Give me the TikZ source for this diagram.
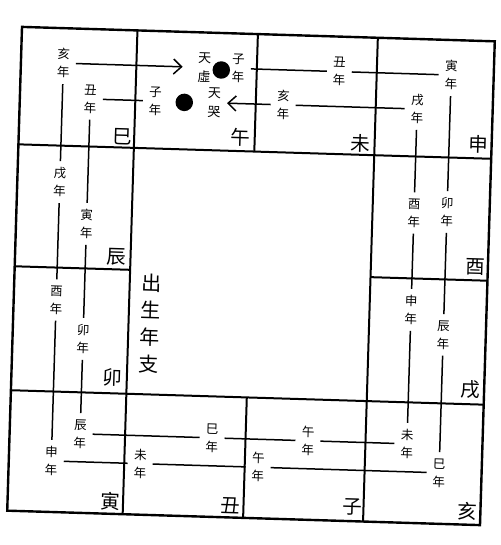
\documentclass[tikz,border=0pt]{standalone}
\usepackage{fontspec}
\newfontfamily\cjk{Noto Sans CJK TC}
\usetikzlibrary{arrows.meta}

\begin{document}
\begin{tikzpicture}[x=1pt, y=-1pt, line width=1.5pt]
    \tikzstyle{year}=[font=\cjk\fontsize{12.5}{18}\selectfont, align=center, inner sep=5.5pt]
    \tikzstyle{star}=[font=\cjk\fontsize{13}{19}\selectfont, align=center, inner sep=5.5pt]
    \tikzstyle{branch}=[font=\cjk\fontsize{19.5}{19.5}\selectfont, inner sep=0pt]
    \tikzstyle{spot}=[circle, fill=black, minimum size=17.5pt, inner sep=0pt]
    \tikzstyle{wall}=[line width=2pt]
    \tikzstyle{pointer}=[-{Straight Barb[length=8pt,width=15pt]}]

    \useasboundingbox (0,0) rectangle (500,545);

    \begin{scope}[rotate around={-1.75:(251,276)}, transform shape]

    % Palace grid
    \draw[wall, line width=2.4pt] (14.5,34) rectangle (487.5,518);
    \draw[wall] (130,34) -- (130,518);
    \draw[wall] (370.5,34) -- (370.5,518);
    \draw[wall] (14.5,151.5) -- (487.5,151.5);
    \draw[wall] (14.5,397.5) -- (487.5,397.5);
    \draw[wall] (250.5,34) -- (250.5,151.5);
    \draw[wall] (250.5,397.5) -- (250.5,518);
    \draw[wall] (14.5,273.5) -- (130,273.5);
    \draw[wall] (370.5,273.5) -- (487.5,273.5);

    % Branch names of the palaces
    \node[branch] (si) at (118,141) {巳};
    \node[branch] (wu) at (236,138) {午};
    \node[branch] (wei) at (356,140) {未};
    \node[branch] (shen) at (474,138) {申};
    \node[branch] (chen) at (116,261) {辰};
    \node[branch] (you) at (475,260) {酉};
    \node[branch] (mao) at (116,382) {卯};
    \node[branch] (xu) at (474,383) {戌};
    \node[branch] (yin) at (117,506) {寅};
    \node[branch] (chou) at (237,506) {丑};
    \node[branch] (zi) at (359,504) {子};
    \node[branch] (hai) at (475,505) {亥};

    \node[font=\cjk\fontsize{20}{27}\selectfont, align=center] (title) at (151.5,327) {出\\生\\年\\支};

    % Stars
    \node[star] (tianxu) at (198,69) {天\\虛};
    \node[spot] (tianxu-dot) at (215,71) {};
    \node[star] (tianku) at (209,104) {天\\哭};
    \node[spot] (tianku-dot) at (179,104.5) {};

    % Outer ring of years
    \node[year] (A-1) at (232,69) {子\\年};
    \node[year] (A-2) at (333,69) {丑\\年};
    \node[year] (A-3) at (445,69) {寅\\年};
    \node[year] (A-4) at (445,206) {卯\\年};
    \node[year] (A-5) at (445,329) {辰\\年};
    \node[year] (A-6) at (445,467) {巳\\年};
    \node[year] (A-7) at (264,467) {午\\年};
    \node[year] (A-8) at (146,467) {未\\年};
    \node[year] (A-9) at (57,467) {申\\年};
    \node[year] (A-10) at (57,306) {酉\\年};
    \node[year] (A-11) at (57,188) {戌\\年};
    \node[year] (A-12) at (57,69) {亥\\年};

    % Inner ring of years
    \node[year] (B-1) at (150,104) {子\\年};
    \node[year] (B-2) at (85,104) {丑\\年};
    \node[year] (B-3) at (85,229) {寅\\年};
    \node[year] (B-4) at (85,344) {卯\\年};
    \node[year] (B-5) at (85,439) {辰\\年};
    \node[year] (B-6) at (217,439) {巳\\年};
    \node[year] (B-7) at (313,439) {午\\年};
    \node[year] (B-8) at (412,439) {未\\年};
    \node[year] (B-9) at (412,305) {申\\年};
    \node[year] (B-10) at (412,208) {酉\\年};
    \node[year] (B-11) at (412,104) {戌\\年};
    \node[year] (B-12) at (278,104) {亥\\年};

    % Connect outer ring
    \draw (A-1) -- (A-2);
    \draw (A-2) -- (A-3);
    \draw (A-3) -- (A-4);
    \draw (A-4) -- (A-5);
    \draw (A-5) -- (A-6);
    \draw (A-6) -- (A-7);
    \draw (A-7) -- (A-8);
    \draw (A-8) -- (A-9);
    \draw (A-9) -- (A-10);
    \draw (A-10) -- (A-11);
    \draw (A-11) -- (A-12);
    \draw[pointer, shorten >=9pt] (A-12) -- (tianxu);

    % Connect inner ring
    \draw (B-1) -- (B-2);
    \draw (B-2) -- (B-3);
    \draw (B-3) -- (B-4);
    \draw (B-4) -- (B-5);
    \draw (B-5) -- (B-6);
    \draw (B-6) -- (B-7);
    \draw (B-7) -- (B-8);
    \draw (B-8) -- (B-9);
    \draw (B-9) -- (B-10);
    \draw (B-10) -- (B-11);
    \draw (B-11) -- (B-12);
    \draw[pointer] (B-12) -- (tianku);

    \end{scope}
\end{tikzpicture}
\end{document}
